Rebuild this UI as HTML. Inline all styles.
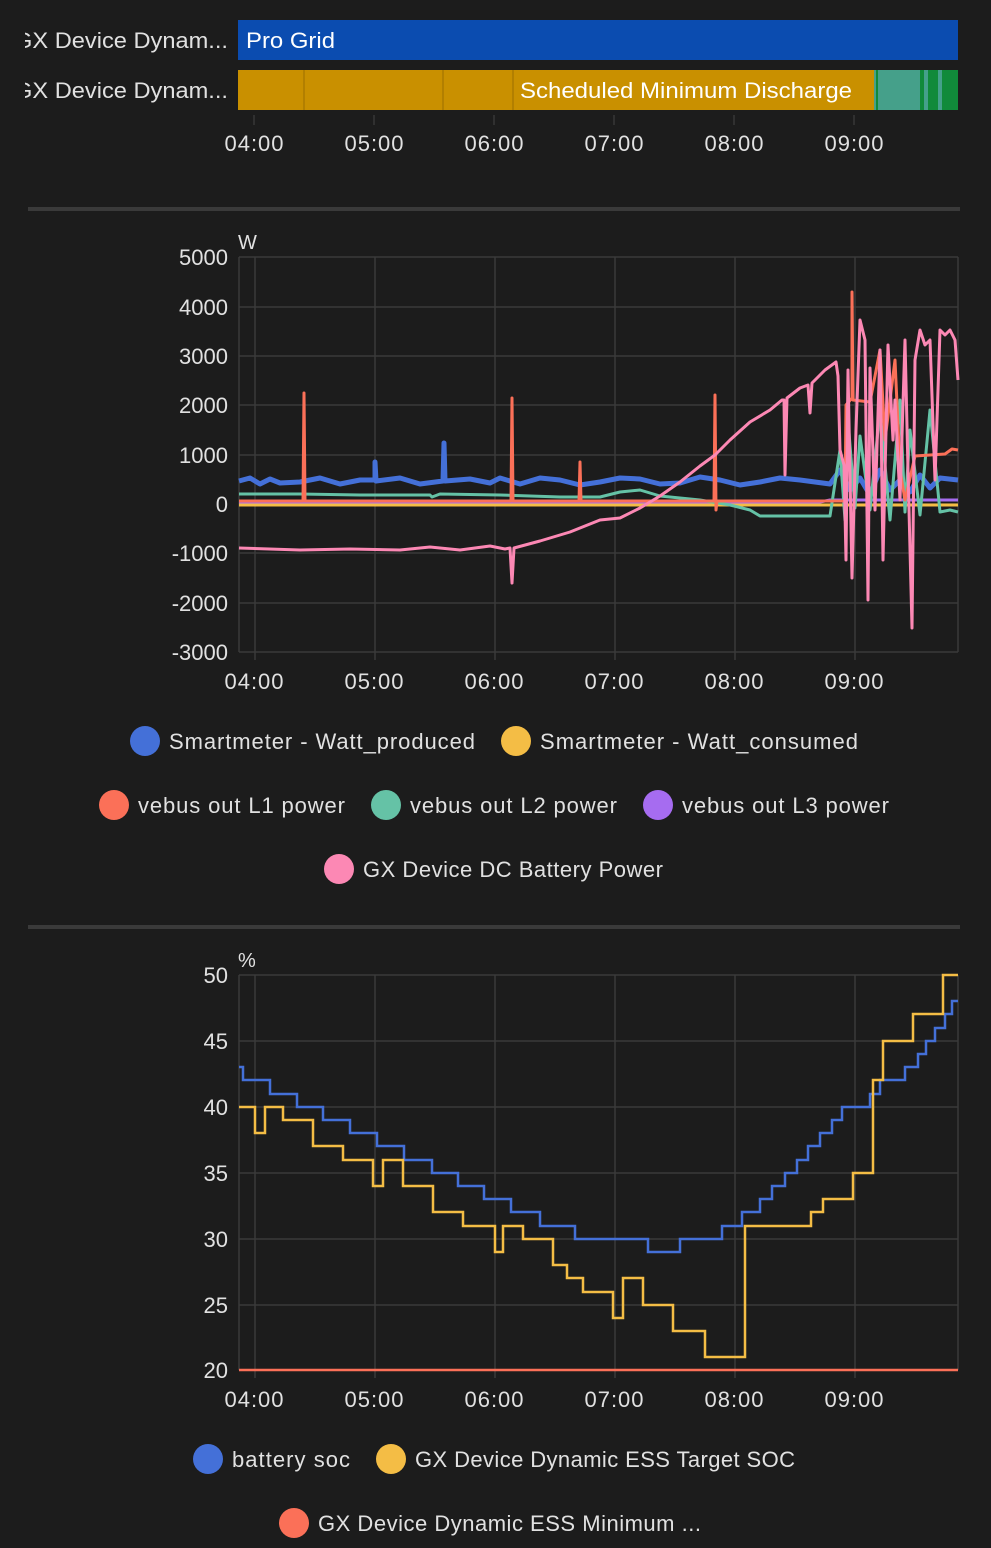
<!DOCTYPE html>
<html><head><meta charset="utf-8"><style>
html,body{margin:0;padding:0;background:#1c1c1c;width:991px;height:1548px;overflow:hidden}
svg{display:block}
text{font-family:"Liberation Sans",sans-serif;fill:#e1e1e1}
</style></head><body>
<svg width="991" height="1548" viewBox="0 0 991 1548">
<defs><clipPath id="lc"><rect x="25" y="0" width="220" height="130"/></clipPath></defs>
<rect width="991" height="1548" fill="#1c1c1c"/>
<!-- timeline -->
<g clip-path="url(#lc)">
<text x="228" y="48" font-size="22" text-anchor="end" textLength="214" lengthAdjust="spacingAndGlyphs">GX Device Dynam...</text>
<text x="228" y="98" font-size="22" text-anchor="end" textLength="214" lengthAdjust="spacingAndGlyphs">GX Device Dynam...</text>
</g>
<rect x="238" y="20" width="720" height="40" fill="#0b4cb0"/>
<text x="246" y="48" font-size="22" style="fill:#fff" textLength="89" lengthAdjust="spacingAndGlyphs">Pro Grid</text>
<rect x="238" y="70" width="636" height="40" fill="#c99000"/>
<g stroke="#9a6e00" stroke-width="1"><line x1="304" y1="70" x2="304" y2="110"/><line x1="443" y1="70" x2="443" y2="110"/><line x1="513" y1="70" x2="513" y2="110"/></g>
<rect x="874" y="70" width="84" height="40" fill="#45a08a"/>
<g fill="#118a3a"><rect x="876" y="70" width="2" height="40"/><rect x="920" y="70" width="4" height="40"/><rect x="928" y="70" width="10" height="40"/><rect x="942" y="70" width="16" height="40"/></g>
<text x="520" y="98" font-size="22" style="fill:#fff" textLength="332" lengthAdjust="spacingAndGlyphs">Scheduled Minimum Discharge</text>
<g stroke="#444" stroke-width="1"><line x1="254" y1="115" x2="254" y2="125"/><line x1="374" y1="115" x2="374" y2="125"/><line x1="494" y1="115" x2="494" y2="125"/><line x1="614" y1="115" x2="614" y2="125"/><line x1="734" y1="115" x2="734" y2="125"/><line x1="854" y1="115" x2="854" y2="125"/></g>
<g font-size="22" text-anchor="middle"><text x="254" y="151" textLength="59">04:00</text><text x="374" y="151" textLength="59">05:00</text><text x="494" y="151" textLength="59">06:00</text><text x="614" y="151" textLength="59">07:00</text><text x="734" y="151" textLength="59">08:00</text><text x="854" y="151" textLength="59">09:00</text></g>
<rect x="28" y="207" width="932" height="4" fill="#3a3a3a"/>

<!-- chart 1 -->
<text x="238" y="249" font-size="20">W</text>
<g stroke="#3a3a3a" stroke-width="1.5">
<line x1="239" y1="257" x2="958" y2="257"/><line x1="239" y1="307" x2="958" y2="307"/><line x1="239" y1="356" x2="958" y2="356"/><line x1="239" y1="405" x2="958" y2="405"/><line x1="239" y1="455" x2="958" y2="455"/><line x1="239" y1="504" x2="958" y2="504"/><line x1="239" y1="553" x2="958" y2="553"/><line x1="239" y1="603" x2="958" y2="603"/><line x1="239" y1="652" x2="958" y2="652"/>
<line x1="239" y1="257" x2="239" y2="652"/><line x1="958" y1="257" x2="958" y2="652"/>
<line x1="255" y1="257" x2="255" y2="660"/><line x1="375" y1="257" x2="375" y2="660"/><line x1="495" y1="257" x2="495" y2="660"/><line x1="615" y1="257" x2="615" y2="660"/><line x1="735" y1="257" x2="735" y2="660"/><line x1="855" y1="257" x2="855" y2="660"/>
</g>
<g font-size="22" text-anchor="end"><text x="228" y="265">5000</text><text x="228" y="315">4000</text><text x="228" y="364">3000</text><text x="228" y="413">2000</text><text x="228" y="463">1000</text><text x="228" y="512">0</text><text x="228" y="561">-1000</text><text x="228" y="611">-2000</text><text x="228" y="660">-3000</text></g>
<g font-size="22" text-anchor="middle"><text x="254" y="689" textLength="59">04:00</text><text x="374" y="689" textLength="59">05:00</text><text x="494" y="689" textLength="59">06:00</text><text x="614" y="689" textLength="59">07:00</text><text x="734" y="689" textLength="59">08:00</text><text x="854" y="689" textLength="59">09:00</text></g>
<g fill="none" stroke-linejoin="round">
<polyline stroke="#f4bd45" stroke-width="3" points="239,505 958,505"/>
<polyline stroke="#a66cf0" stroke-width="3" points="239,502 820,502 830,500 958,500"/>
<polyline stroke="#4470d8" stroke-width="5" points="239,481 250,478 260,484 270,479 280,483 300,482 320,478 340,484 360,480 375,480 375,462 376,481 400,478 420,484 443,481 444,443 445,481 470,479 490,483 500,478 520,484 540,478 560,480 580,485 600,482 620,478 640,479 660,484 680,483 700,477 720,480 740,485 760,482 780,478 800,480 830,484 840,470 850,490 860,478 870,495 880,470 890,490 900,480 910,492 920,475 930,488 940,478 958,480"/>
<polyline stroke="#65c2a6" stroke-width="3" points="239,494 300,494 360,495 430,495 432,497 440,494 500,495 560,497 600,497 620,492 640,490 660,496 700,500 730,505 750,510 760,516 800,516 830,516 840,450 845,520 848,420 855,508 860,436 870,510 880,410 890,520 900,400 905,512 910,430 920,515 930,410 940,512 950,510 958,512"/>
<polyline stroke="#fb7058" stroke-width="3" points="239,501 303,501 304,393 305,501 511,501 512,398 513,501 579,501 580,462 581,501 714,501 715,395 716,510 717,501 845,501 846,405 852,398 852,292 853,400 870,402 880,350 885,440 895,360 900,470 905,500 915,456 930,455 945,454 952,449 958,450"/>
<polyline stroke="#fc88b4" stroke-width="3" points="239,548 300,550 350,549 400,550 430,547 460,550 490,546 505,549 510,548 512,583 514,548 540,541 570,532 600,520 620,518 640,508 660,496 680,482 700,466 715,455 730,440 750,422 770,410 782,400 784,400 785,475 787,398 800,388 808,385 810,413 812,383 825,370 836,362 838,376 840,450 844,465 846,560 848,370 852,578 856,430 860,320 865,340 868,600 870,368 875,510 880,350 883,560 888,345 893,440 895,400 900,500 905,340 908,470 912,628 915,360 920,330 925,345 930,340 935,480 940,330 945,335 950,330 955,340 958,380"/>
</g>
<g font-size="22">
<circle cx="145" cy="741" r="15" fill="#4470d8"/><text x="169" y="749" textLength="306">Smartmeter - Watt_produced</text>
<circle cx="516" cy="741" r="15" fill="#f4bd45"/><text x="540" y="749" textLength="318">Smartmeter - Watt_consumed</text>
<circle cx="114" cy="805" r="15" fill="#fb7058"/><text x="138" y="813" textLength="207">vebus out L1 power</text>
<circle cx="386" cy="805" r="15" fill="#65c2a6"/><text x="410" y="813" textLength="207">vebus out L2 power</text>
<circle cx="658" cy="805" r="15" fill="#a66cf0"/><text x="682" y="813" textLength="207">vebus out L3 power</text>
<circle cx="339" cy="869" r="15" fill="#fc88b4"/><text x="363" y="877" textLength="300">GX Device DC Battery Power</text>
</g>
<rect x="28" y="925" width="932" height="4" fill="#3a3a3a"/>

<!-- chart 2 -->
<text x="238" y="967" font-size="20">%</text>
<g stroke="#3a3a3a" stroke-width="1.5">
<line x1="239" y1="975" x2="958" y2="975"/><line x1="239" y1="1041" x2="958" y2="1041"/><line x1="239" y1="1107" x2="958" y2="1107"/><line x1="239" y1="1173" x2="958" y2="1173"/><line x1="239" y1="1239" x2="958" y2="1239"/><line x1="239" y1="1305" x2="958" y2="1305"/><line x1="239" y1="1370" x2="958" y2="1370"/>
<line x1="239" y1="975" x2="239" y2="1370"/><line x1="958" y1="975" x2="958" y2="1370"/>
<line x1="255" y1="975" x2="255" y2="1378"/><line x1="375" y1="975" x2="375" y2="1378"/><line x1="495" y1="975" x2="495" y2="1378"/><line x1="615" y1="975" x2="615" y2="1378"/><line x1="735" y1="975" x2="735" y2="1378"/><line x1="855" y1="975" x2="855" y2="1378"/>
</g>
<g font-size="22" text-anchor="end"><text x="228" y="983">50</text><text x="228" y="1049">45</text><text x="228" y="1115">40</text><text x="228" y="1181">35</text><text x="228" y="1247">30</text><text x="228" y="1313">25</text><text x="228" y="1378">20</text></g>
<g font-size="22" text-anchor="middle"><text x="254" y="1407" textLength="59">04:00</text><text x="374" y="1407" textLength="59">05:00</text><text x="494" y="1407" textLength="59">06:00</text><text x="614" y="1407" textLength="59">07:00</text><text x="734" y="1407" textLength="59">08:00</text><text x="854" y="1407" textLength="59">09:00</text></g>
<g fill="none" stroke-width="2.5">
<polyline stroke="#fb7058" points="239,1370 958,1370"/>
<polyline stroke="#4470d8" points="239,1067 243,1067 243,1080 270,1080 270,1094 297,1094 297,1107 323,1107 323,1120 350,1120 350,1133 377,1133 377,1146 404,1146 404,1160 432,1160 432,1173 458,1173 458,1186 484,1186 484,1199 511,1199 511,1212 540,1212 540,1226 575,1226 575,1239 648,1239 648,1252 680,1252 680,1239 722,1239 722,1226 742,1226 742,1212 760,1212 760,1199 772,1199 772,1186 785,1186 785,1173 797,1173 797,1160 808,1160 808,1146 820,1146 820,1133 832,1133 832,1120 842,1120 842,1107 870,1107 870,1094 880,1094 880,1080 905,1080 905,1067 918,1067 918,1054 926,1054 926,1041 935,1041 935,1028 945,1028 945,1014 952,1014 952,1001 958,1001"/>
<polyline stroke="#f4bd45" points="239,1107 255,1107 255,1133 265,1133 265,1107 283,1107 283,1120 313,1120 313,1146 343,1146 343,1160 373,1160 373,1186 383,1186 383,1160 403,1160 403,1186 433,1186 433,1212 463,1212 463,1226 495,1226 495,1252 503,1252 503,1226 523,1226 523,1239 553,1239 553,1265 567,1265 567,1278 583,1278 583,1292 613,1292 613,1318 623,1318 623,1278 643,1278 643,1305 673,1305 673,1331 705,1331 705,1357 745,1357 745,1226 811,1226 811,1212 823,1212 823,1199 853,1199 853,1173 873,1173 873,1080 883,1080 883,1041 913,1041 913,1014 943,1014 943,975 958,975"/>
</g>
<g font-size="22">
<circle cx="208" cy="1459" r="15" fill="#4470d8"/><text x="232" y="1467" textLength="118">battery soc</text>
<circle cx="391" cy="1459" r="15" fill="#f4bd45"/><text x="415" y="1467" textLength="380">GX Device Dynamic ESS Target SOC</text>
<circle cx="294" cy="1523" r="15" fill="#fb7058"/><text x="318" y="1531" textLength="383">GX Device Dynamic ESS Minimum ...</text>
</g>
</svg>
</body></html>
